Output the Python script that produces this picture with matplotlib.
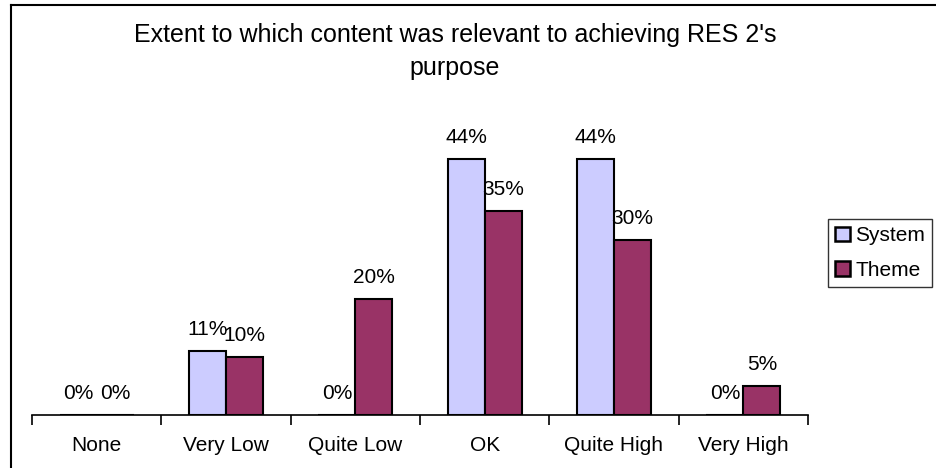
import matplotlib
matplotlib.use("Agg")
import matplotlib.pyplot as plt
import numpy as np
from matplotlib.lines import Line2D
from matplotlib.patches import Patch

categories = ["None", "Very Low", "Quite Low", "OK", "Quite High", "Very High"]
system = [0, 11, 0, 44, 44, 0]
theme = [0, 10, 20, 35, 30, 5]
series_names = ["System", "Theme"]

plt.rcParams['font.family'] = ['Liberation Sans', 'DejaVu Sans']

fig = plt.figure(figsize=(9.36, 4.68), dpi=100)
ax = fig.add_axes([32/936, 53/468, 776/936, 291/468])

x = np.arange(len(categories))
w = 0.286
bars_s = ax.bar(x - w/2, system, w, color='#CCCCFF', edgecolor='black', linewidth=1.5)
bars_t = ax.bar(x + w/2, theme, w, color='#993366', edgecolor='black', linewidth=1.5)

for bars in (bars_s, bars_t):
    for b in bars:
        v = b.get_height()
        ax.annotate(f"{v:.0f}%", (b.get_x() + b.get_width()/2, v),
                    xytext=(0, 12), textcoords='offset pixels',
                    ha='center', va='bottom', fontsize=15)

ax.set_xlim(-0.5, len(categories) - 0.5)
ax.set_ylim(0, 50)
ax.set_yticks([])
for s in ('left', 'top', 'right'):
    ax.spines[s].set_visible(False)
ax.spines['bottom'].set_linewidth(1.2)

# category names in the middle, tick marks between the categories
ax.set_xticks(x)
ax.set_xticklabels(categories, fontsize=15)
ax.tick_params(axis='x', which='major', length=0, pad=15)
ax.set_xticks(np.arange(-0.5, len(categories)), minor=True)
ax.tick_params(axis='x', which='minor', length=7, width=1.2)
ax.patch.set_alpha(0)

fig.text(455/936, 1 - 23/468, "Extent to which content was relevant to achieving RES 2's\npurpose",
         ha='center', va='top', fontsize=18, linespacing=1.45)

handles = [Patch(facecolor='#CCCCFF', edgecolor='black', linewidth=1.8),
           Patch(facecolor='#993366', edgecolor='black', linewidth=1.8)]
leg = fig.legend(handles, series_names, loc='upper left',
                 bbox_to_anchor=(828/936, 1 - 219/468), bbox_transform=fig.transFigure,
                 borderaxespad=0, fontsize=15, handlelength=0.7, handleheight=0.7,
                 handletextpad=0.25, labelspacing=0.75, borderpad=0.35, fancybox=False)
leg.get_frame().set_edgecolor('black')
leg.get_frame().set_linewidth(1.0)

# chart border on the left and top
fig.add_artist(Line2D([11/936, 11/936], [0, 1 - 5/468], color='black', linewidth=1.5))
fig.add_artist(Line2D([11/936, 1], [1 - 5/468, 1 - 5/468], color='black', linewidth=1.5))

fig.savefig("out.png", dpi=100)
